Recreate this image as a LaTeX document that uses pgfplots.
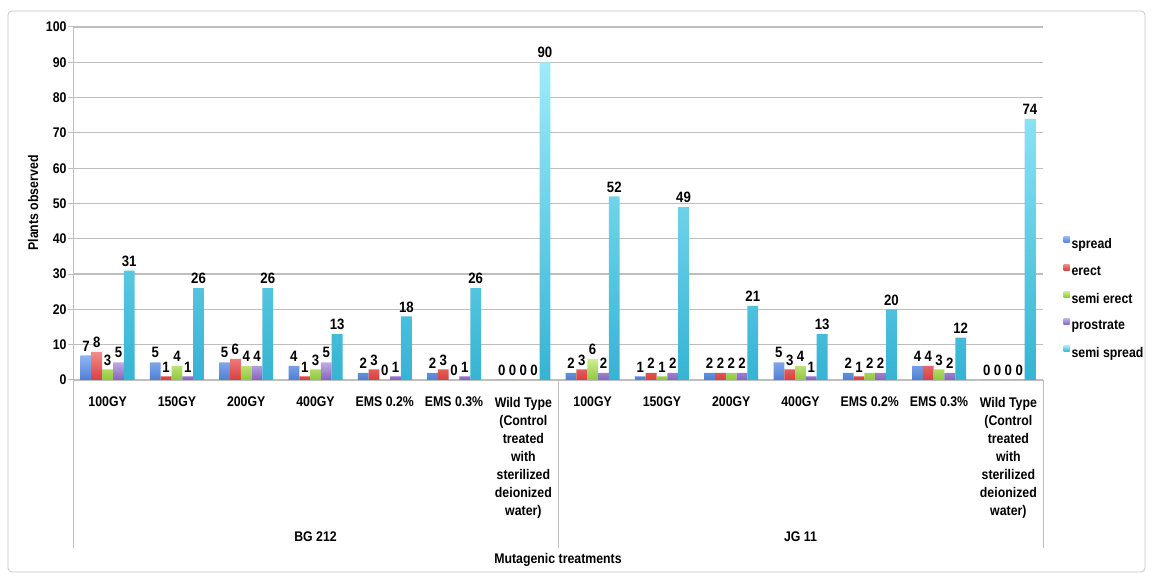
\documentclass[border=0pt]{standalone}
\usepackage{pgfplots}
\pgfplotsset{compat=1.18}
\usepackage{pgfplotstable}
\usepackage{fontspec}
\setmainfont{Liberation Sans}[FakeStretch=0.88]

\definecolor{gridc}{HTML}{BEBEBE}
\definecolor{spreadT}{HTML}{92B6F2}
\definecolor{spreadB}{HTML}{4F7FD4}
\definecolor{erectT}{HTML}{F58C8C}
\definecolor{erectB}{HTML}{D8403E}
\definecolor{semierectT}{HTML}{D0EF92}
\definecolor{semierectB}{HTML}{90C63C}
\definecolor{prostrateT}{HTML}{C0AAE6}
\definecolor{prostrateB}{HTML}{8464BE}
\definecolor{semispreadT}{HTML}{9CECFA}
\definecolor{semispreadB}{HTML}{36B3D3}

% plant habit counts per treatment (0-6: BG 212, 7-13: JG 11)
\pgfplotstableread{
x spread erect semierect prostrate semispread
0 7 8 3 5 31
1 5 1 4 1 26
2 5 6 4 4 26
3 4 1 3 5 13
4 2 3 0 1 18
5 2 3 0 1 26
6 0 0 0 0 90
7 2 3 6 2 52
8 1 2 1 2 49
9 2 2 2 2 21
10 5 3 4 1 13
11 2 1 2 2 20
12 4 4 3 2 12
13 0 0 0 0 74
}\datatable

\newcommand{\lblfont}{\bfseries\fontsize{14bp}{18bp}\selectfont}

\begin{document}
\begin{tikzpicture}[x=1bp,y=1bp]
\useasboundingbox (0,0) rectangle (1153,579);
\fill[white] (0,0) rectangle (1153,579);
\draw[gray!45, line width=0.8bp, rounded corners=4bp] (8,7) rectangle (1145,568);
\begin{axis}[
  at={(73bp,199bp)}, anchor=south west,
  scale only axis, width=970bp, height=353bp,
  xmin=-0.5, xmax=13.5, ymin=0, ymax=100,
  /pgf/number format/assume math mode=true,
  ybar=0pt, bar width=10.8bp,
  axis x line*=bottom, axis y line*=left,
  axis line style={gridc, line width=1bp, -},
  ytick={0,10,...,100},
  ymajorgrids, grid style={gridc, line width=1.2bp},
  tick align=outside, major tick length=5bp,
  y tick style={gridc, line width=1bp},
  yticklabel style={font=\lblfont, xshift=2bp},
  xtick={0,...,13},
  x tick style={draw=none},
  xticklabels={100GY,150GY,200GY,400GY,EMS 0.2\%,EMS 0.3\%,
    {Wild Type\\(Control\\treated\\with\\sterilized\\deionized\\water)},
    100GY,150GY,200GY,400GY,EMS 0.2\%,EMS 0.3\%,
    {Wild Type\\(Control\\treated\\with\\sterilized\\deionized\\water)}},
  xticklabel style={font=\lblfont, align=center, anchor=north, inner sep=0pt, yshift=-12bp},
  extra x ticks={-0.5,0.5,...,13.5},
  extra x tick labels={},
  extra x tick style={major tick length=138bp, tick style={gridc, line width=1bp}, xmajorgrids=false},
  nodes near coords,
  every node near coord/.append style={font=\bfseries\fontsize{15bp}{15bp}\selectfont, text=black, inner sep=4bp},
  legend style={at={(1.021,0.23)}, anchor=west, draw=none, fill=none,
    font=\bfseries\fontsize{14bp}{14bp}\selectfont, row sep=12bp, inner sep=0pt},
  legend cell align=left,
  legend image code/.code={\path[#1, draw=none] (0bp,1.5bp) rectangle (6bp,7.5bp);},
  clip=false,
]
\addplot[draw=none, top color=spreadT, bottom color=spreadB] table[x=x, y=spread] {\datatable};
\addplot[draw=none, top color=erectT, bottom color=erectB] table[x=x, y=erect] {\datatable};
\addplot[draw=none, top color=semierectT, bottom color=semierectB] table[x=x, y=semierect] {\datatable};
\addplot[draw=none, top color=prostrateT, bottom color=prostrateB] table[x=x, y=prostrate] {\datatable};
\addplot[draw=none, top color=semispreadT, bottom color=semispreadB] table[x=x, y=semispread] {\datatable};
\legend{spread,erect,semi erect,prostrate,semi spread}
\end{axis}
% group brackets below the category labels
\foreach \gx in {73,558,1043} \draw[gridc, line width=1bp] (\gx,199) -- (\gx,31);
\node[font=\lblfont] at (315.5,42) {BG 212};
\node[font=\lblfont] at (800.5,42) {JG 11};
\node[font=\lblfont] at (558,19) {Mutagenic treatments};
\node[font=\lblfont, rotate=90] at (33,376) {Plants observed};
\end{tikzpicture}
\end{document}
